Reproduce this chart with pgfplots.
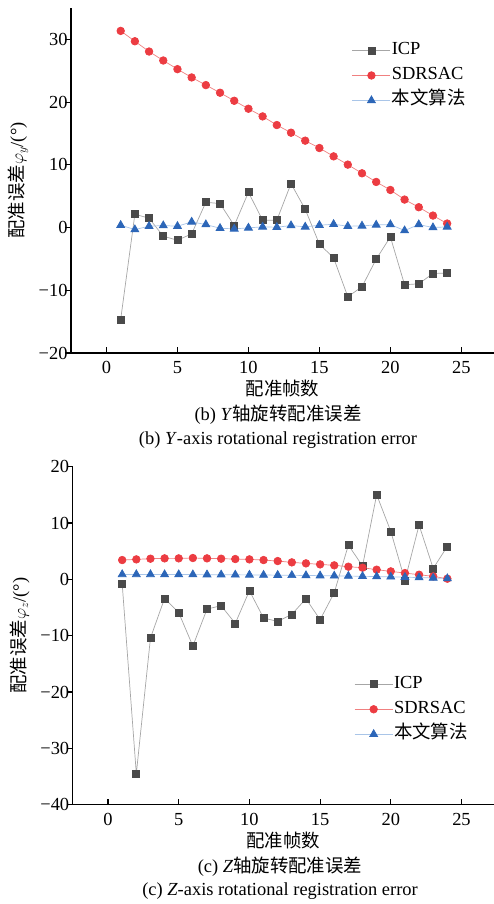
\documentclass[border=0pt]{standalone}
\usepackage{fontspec}
\setmainfont{Liberation Serif}
\newfontfamily\cjk{Noto Sans CJK SC}
\usepackage{pgfplots}
\pgfplotsset{compat=1.18}
\definecolor{icpc}{HTML}{4A4A4A}
\definecolor{icpl}{HTML}{A6A6A6}
\definecolor{sdc}{HTML}{EC3C42}
\definecolor{sdl}{HTML}{F08080}
\definecolor{ouc}{HTML}{2C66B8}
\definecolor{oul}{HTML}{A9C5E8}
\newcommand{\fs}{\fontsize{18.5}{22}\selectfont}
\pgfplotsset{
  mystyle/.style={
    scale only axis,
    xmin=-2.5, xmax=27.3,
    axis x line*=bottom, axis y line*=left,
    axis line style={line width=1.1bp, black},
    tick align=inside, major tick length=6bp,
    tick style={black, line width=1.1bp},
    ytick style={xshift=-6bp},
    xtick={0,5,10,15,20,25},
    tick label style={font=\fs},
    xticklabel style={yshift=-5bp},
    /pgf/number format/assume math mode=true,
    clip=false,
    legend cell align=left,
    legend style={draw=none, fill=none, font=\fs, row sep=6bp, inner sep=0pt,
      nodes={inner sep=1bp, text height=13bp, text depth=4bp}},
    legend image code/.code={\draw[mark repeat=2,mark phase=2,##1] plot coordinates {(0bp,0bp) (19bp,0bp) (38bp,0bp)};},
    xlabel style={at={(axis description cs:0.5,0)}, anchor=center, yshift=-36bp, font=\fs},
    ylabel style={at={(axis description cs:-0.1255,0.5)}, anchor=center, font=\fs},
    xlabel={\cjk 配准帧数},
  },
  icp/.style={icpl, line width=0.7bp, mark=square*, mark size=3.5bp, mark options={draw=icpc, fill=icpc, solid}},
  sdr/.style={sdl, line width=0.7bp, mark=*, mark size=3.8bp, mark options={draw=sdc, fill=sdc, solid}},
  our/.style={oul, line width=0.7bp, mark=triangle*, mark size=4.6bp, mark options={draw=ouc, fill=ouc, solid}},
}
\begin{document}
\begin{tikzpicture}
\path[use as bounding box] (0,0) rectangle (494bp,-904bp);
\begin{axis}[mystyle,
  at={(71bp,-353bp)}, anchor=south west,
  width=423bp, height=345bp,
  ymin=-20, ymax=35,
  ytick={-20,-10,0,10,20,30},
  yticklabels={−20,−10,0,10,20,30},
  ylabel={{\cjk 配准误差}$\varphi_y$/(°)},
  legend style={at={(0.664,0.905)}, anchor=north west},
]
\addplot[icp] coordinates {
(1,-14.64) (2,2.12) (3,1.49) (4,-1.38) (5,-2.02) (6,-1.01) (7,4.03) (8,3.82)
(9,0.32) (10,5.62) (11,1.17) (12,1.17) (13,7.0) (14,2.92) (15,-2.65) (16,-4.83)
(17,-11.03) (18,-9.44) (19,-5.04) (20,-1.49) (21,-9.12) (22,-8.97) (23,-7.32) (24,-7.27)};
\addlegendentry{ICP}
\addplot[sdr] coordinates {
(1,31.35) (2,29.7) (3,28.06) (4,26.63) (5,25.25) (6,23.93) (7,22.71) (8,21.49)
(9,20.21) (10,18.94) (11,17.72) (12,16.34) (13,15.12) (14,13.85) (15,12.68) (16,11.35)
(17,10.03) (18,8.65) (19,7.27) (20,5.99) (21,4.46) (22,3.24) (23,1.91) (24,0.64)};
\addlegendentry{SDRSAC}
\addplot[our] coordinates {
(1,0.37) (2,-0.32) (3,0.21) (4,0.32) (5,0.21) (6,0.9) (7,0.48) (8,-0.11)
(9,-0.21) (10,-0.05) (11,0.11) (12,0.05) (13,0.32) (14,0.11) (15,0.37) (16,0.53)
(17,0.21) (18,0.27) (19,0.42) (20,0.48) (21,-0.48) (22,0.48) (23,0.0) (24,0.11)};
\addlegendentry{\cjk 本文算法}
\end{axis}
\node[font=\fs] at (278bp,-415bp) {(b) \textit{Y}{\cjk 轴旋转配准误差}};
\node[font=\fs] at (278bp,-440bp) {(b) \textit{Y}-axis rotational registration error};
\begin{axis}[mystyle,
  at={(72.7bp,-804.7bp)}, anchor=south west,
  width=421.3bp, height=338bp,
  ymin=-40, ymax=20,
  ytick={-40,-30,-20,-10,0,10,20},
  yticklabels={−40,−30,−20,−10,0,10,20},
  ylabel={{\cjk 配准误差}$\varphi_z$/(°)},
  legend style={at={(0.668,0.385)}, anchor=north west},
]
\addplot[icp] coordinates {
(1,-0.77) (2,-34.5) (3,-10.41) (4,-3.37) (5,-5.92) (6,-11.83) (7,-5.27) (8,-4.67)
(9,-7.81) (10,-2.01) (11,-6.86) (12,-7.46) (13,-6.21) (14,-3.43) (15,-7.16) (16,-2.37)
(17,6.09) (18,2.37) (19,15.03) (20,8.52) (21,-0.18) (22,9.64) (23,1.95) (24,5.86)};
\addlegendentry{ICP}
\addplot[sdr] coordinates {
(1,3.43) (2,3.55) (3,3.67) (4,3.73) (5,3.73) (6,3.79) (7,3.73) (8,3.67)
(9,3.61) (10,3.55) (11,3.43) (12,3.25) (13,3.02) (14,2.84) (15,2.66) (16,2.49)
(17,2.25) (18,2.07) (19,1.72) (20,1.42) (21,1.12) (22,0.83) (23,0.53) (24,0.12)};
\addlegendentry{SDRSAC}
\addplot[our] coordinates {
(1,0.88) (2,0.88) (3,0.88) (4,0.87) (5,0.86) (6,0.85) (7,0.84) (8,0.83)
(9,0.81) (10,0.79) (11,0.77) (12,0.75) (13,0.72) (14,0.69) (15,0.66) (16,0.63)
(17,0.59) (18,0.55) (19,0.5) (20,0.45) (21,0.39) (22,0.32) (23,0.25) (24,0.15)};
\addlegendentry{\cjk 本文算法}
\end{axis}
\node[font=\fs] at (280bp,-867bp) {(c) \textit{Z}{\cjk 轴旋转配准误差}};
\node[font=\fs] at (280bp,-891bp) {(c) \textit{Z}-axis rotational registration error};
\end{tikzpicture}
\end{document}
